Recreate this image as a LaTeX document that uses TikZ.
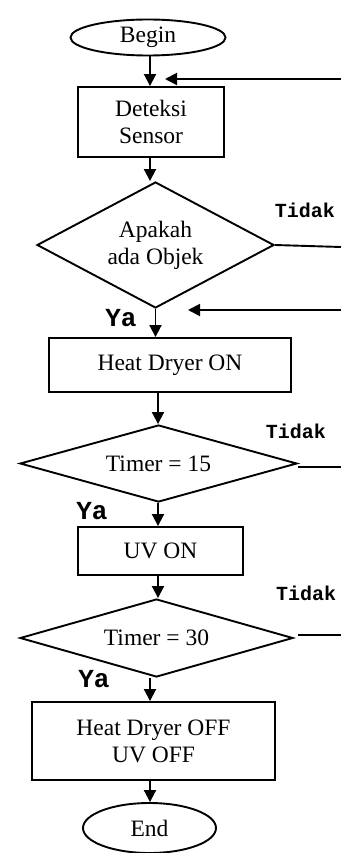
\documentclass[tikz,border=0pt]{standalone}
\usepackage{fontspec}
\setmainfont{Liberation Serif}
\newfontfamily\labelfont{Liberation Mono}
\usetikzlibrary{arrows.meta,shapes.geometric}
\tikzset{
  base/.style={draw=black, line width=1.9pt, inner sep=0pt, align=center, font=\fontsize{23.5}{27}\selectfont},
  term/.style={base, ellipse},
  proc/.style={base, rectangle},
  dec/.style={base, diamond},
  conn/.style={line width=1.9pt, -{Triangle[length=12pt,width=12pt]}},
  plain/.style={line width=1.9pt},
  tidak/.style={inner sep=0pt, font=\labelfont\bfseries\fontsize{20}{22}\selectfont},
  ya/.style={inner sep=0pt, font=\labelfont\bfseries\fontsize{26}{28}\selectfont},
}
\begin{document}
\begin{tikzpicture}[x=1pt,y=-1pt]
\useasboundingbox (0,0) rectangle (341,853);
% nodes
\node[term, minimum width=155pt, minimum height=36pt] (begin) at (148,37.5) {Begin};
\node[proc, minimum width=146pt, minimum height=70pt] (det) at (151,122) {Deteksi\\Sensor};
\node[dec, shape aspect=1.88, minimum width=237pt, minimum height=126pt] (d1) at (155.5,245) {Apakah\\ada Objek};
\node[proc, minimum width=242pt, minimum height=54pt] (heat) at (170,365) {Heat Dryer ON};
\node[dec, shape aspect=3.6, minimum width=277pt, minimum height=77pt] (d2) at (158.5,463.5) {Timer = 15};
\node[proc, minimum width=165pt, minimum height=48pt] (uv) at (160.5,551) {UV ON};
\node[dec, shape aspect=3.5, minimum width=273pt, minimum height=78pt] (d3) at (156.5,638) {Timer = 30};
\node[proc, minimum width=243pt, minimum height=78pt] (off) at (153.5,741) {Heat Dryer OFF\\UV OFF};
\node[term, minimum width=133pt, minimum height=50pt] (end) at (149.5,828) {End};
% labels
\node[tidak] (t1) at (305,210) {Tidak};
\node[tidak] (t2) at (296,431) {Tidak};
\node[tidak] (t3) at (306,593) {Tidak};
\node[ya] (y1) at (121,318) {Ya};
\node[ya] (y2) at (92,511) {Ya};
\node[ya] (y3) at (94,679) {Ya};
% coordinates for free ends
\coordinate (fb1s) at (341,79);
\coordinate (fb1e) at (165,79);
\coordinate (n1) at (341,247);
\coordinate (fb2s) at (341,310);
\coordinate (fb2e) at (188,310);
\coordinate (n2s) at (298,467);
\coordinate (n2e) at (341,467);
\coordinate (n3s) at (298,635);
\coordinate (n3e) at (341,635);
% main flow
\draw[conn] (150,0 |- begin.south) -- (150,0 |- det.north);
\draw[conn] (150,0 |- det.south) -- (150,0 |- d1.north);
\draw[conn] (d1.south) -- (d1.south |- heat.north);
\draw[conn] (158,0 |- heat.south) -- (158,0 |- d2.north);
\draw[conn] (158,0 |- d2.south) -- (158,0 |- uv.north);
\draw[conn] (158,0 |- uv.south) -- (158,0 |- d3.north);
\draw[conn] (150,0 |- d3.south) -- (150,0 |- off.north);
\draw[conn] (150,0 |- off.south) -- (150,0 |- end.north);
% side lines
\draw[conn] (fb1s) -- (fb1e);
\draw[plain] (d1.east) -- (n1);
\draw[conn] (fb2s) -- (fb2e);
\draw[plain] (n2s) -- (n2e);
\draw[plain] (n3s) -- (n3e);
\end{tikzpicture}
\end{document}
